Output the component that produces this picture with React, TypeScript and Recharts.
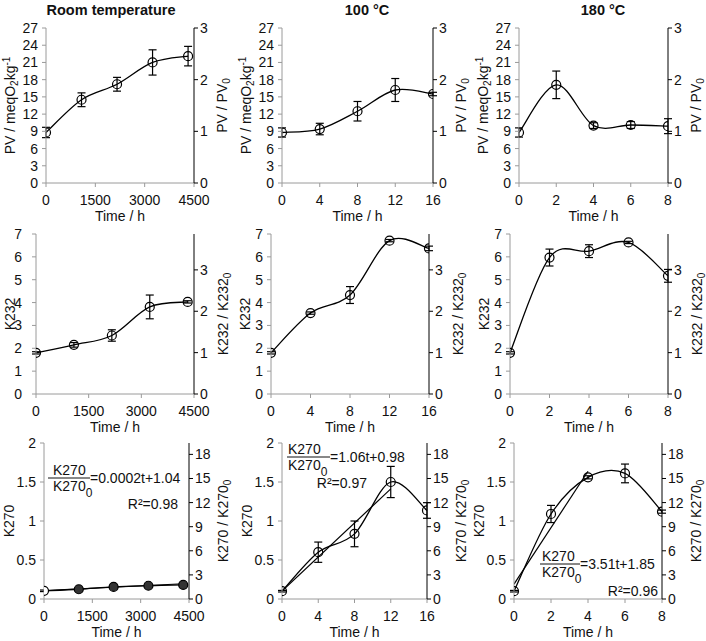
import React from "react";
import { ComposedChart, ErrorBar, Line, XAxis, YAxis } from "recharts";

// sampling times (h)
const hoursRT = [0, 1080, 2160, 3240, 4320];
const hours100 = [0, 4, 8, 12, 16];
const hours180 = [0, 2, 4, 6, 8];

// axis ticks
const ticksRT = [0, 1500, 3000, 4500];
const ticks100 = [0, 4, 8, 12, 16];
const ticks180 = [0, 2, 4, 6, 8];
const pvTicks = [0, 3, 6, 9, 12, 15, 18, 21, 24, 27];
const pvRatioTicks = [0, 1, 2, 3];
const k232Ticks = [0, 1, 2, 3, 4, 5, 6, 7];
const k232RatioTicks = [0, 1, 2, 3];
const k270Ticks = [0, 0.5, 1, 1.5, 2];
const k270RatioTicks = [0, 3, 6, 9, 12, 15, 18];

// initial values used for the right-hand ratio axes
const pv0 = 9;
const k232_0 = 1.81;
const k270_0 = 0.103;

// peroxide value (meq O2/kg) and standard deviations
const pvRT = [8.8, 14.5, 17.2, 21.0, 22.1];
const pvRTErr = [0.9, 1.2, 1.2, 2.2, 1.7];
const pv100 = [8.8, 9.4, 12.5, 16.2, 15.5];
const pv100Err = [0.8, 1.0, 1.7, 2.0, 0.3];
const pv180 = [8.8, 17.1, 10.0, 10.1, 9.9];
const pv180Err = [0.8, 2.4, 0.5, 0.6, 1.3];

// K232
const k232RT = [1.8, 2.15, 2.56, 3.81, 4.03];
const k232RTErr = [0.05, 0.1, 0.25, 0.52, 0.05];
const k232_100 = [1.8, 3.54, 4.33, 6.71, 6.37];
const k232_100Err = [0.05, 0.05, 0.37, 0.05, 0.1];
const k232_180 = [1.8, 5.97, 6.25, 6.63, 5.17];
const k232_180Err = [0.05, 0.37, 0.28, 0.05, 0.28];

// K270
const k270RT = [0.105, 0.125, 0.155, 0.17, 0.18];
const k270RTErr = [0.01, 0.02, 0.02, 0.02, 0.02];
const k270_100 = [0.1, 0.6, 0.835, 1.5, 1.135];
const k270_100Err = [0.01, 0.13, 0.165, 0.2, 0.1];
const k270_180 = [0.1, 1.09, 1.56, 1.61, 1.12];
const k270_180Err = [0.01, 0.11, 0.02, 0.12, 0.02];

// linear fits of K270/K270_0, end points
const fitRTHours = [0, 4320];
const fitRTRatio = [1.04, 1.9];
const fit100Hours = [0, 12];
const fit100Ratio = [0.98, 13.7];
const fit180Hours = [0, 4];
const fit180Ratio = [1.85, 15.9];

const eqRT = "=0.0002t+1.04";
const eq100 = "=1.06t+0.98";
const eq180 = "=3.51t+1.85";
const r2RT = "R²=0.98";
const r2100 = "R²=0.97";
const r2180 = "R²=0.96";

const GRAY = "#9a9a9a";
const INK = "#111";
const tickStyle = { fill: INK, fontSize: 14 };

// excel-like smoothed line (catmull-rom through the points)
const smooth = (context: any) => {
  let pts: number[][] = [];
  return {
    areaStart() {},
    areaEnd() {},
    lineStart() {
      pts = [];
    },
    point(x: number, y: number) {
      pts.push([+x, +y]);
    },
    lineEnd() {
      if (!pts.length) return;
      context.moveTo(pts[0][0], pts[0][1]);
      for (let i = 0; i < pts.length - 1; i++) {
        const p0 = pts[Math.max(i - 1, 0)];
        const p1 = pts[i];
        const p2 = pts[i + 1];
        const p3 = pts[Math.min(i + 2, pts.length - 1)];
        context.bezierCurveTo(
          p1[0] + (p2[0] - p0[0]) / 6,
          p1[1] + (p2[1] - p0[1]) / 6,
          p2[0] - (p3[0] - p1[0]) / 6,
          p2[1] - (p3[1] - p1[1]) / 6,
          p2[0],
          p2[1]
        );
      }
    },
  };
};

function YTitle({ viewBox, side, gap, node }: any) {
  const cx = side === "left" ? viewBox.x + viewBox.width - gap : viewBox.x + gap;
  const cy = viewBox.y + viewBox.height / 2;
  return (
    <text
      x={cx}
      y={cy}
      dy="0.35em"
      transform={`rotate(-90 ${cx} ${cy})`}
      textAnchor="middle"
      fontSize={14}
      fill={INK}
    >
      {node}
    </text>
  );
}

function XTitle({ viewBox }: any) {
  return (
    <text
      x={viewBox.x + viewBox.width / 2}
      y={viewBox.y + 38}
      textAnchor="middle"
      fontSize={14}
      fill={INK}
    >
      Time / h
    </text>
  );
}

const pvTitle = (
  <>
    PV / meqO<tspan dy={3} fontSize={10}>2</tspan>
    <tspan dy={-3}>kg</tspan>
    <tspan dy={-5} fontSize={10}>-1</tspan>
  </>
);
const pvRatioTitle = (
  <>
    PV / PV<tspan dy={3} fontSize={10}>0</tspan>
  </>
);
const k232RatioTitle = (
  <>
    K232 / K232<tspan dy={3} fontSize={10}>0</tspan>
  </>
);
const k270RatioTitle = (
  <>
    K270 / K270<tspan dy={3} fontSize={10}>0</tspan>
  </>
);

type PanelProps = {
  left: number;
  right: number;
  top: number;
  bottom: number;
  hours: number[];
  values: number[];
  errors: number[];
  xTicks: number[];
  yTicks: number[];
  yMax: number;
  rTicks: number[];
  rMax: number;
  yTitle: React.ReactNode;
  rTitle: React.ReactNode;
  yGap: number;
  rGap: number;
  tickGap?: number;
  fitHours?: number[];
  fitRatio?: number[];
  filledDots?: boolean;
};

function Panel(p: PanelProps) {
  const data = p.hours.map((t, i) => ({ t, y: p.values[i], e: p.errors[i] }));
  const fit = p.fitHours
    ? p.fitHours.map((t, i) => ({ t, r: p.fitRatio![i] }))
    : null;
  const w = p.right - p.left + 120;
  const h = p.bottom - p.top + 52;
  const dot = p.filledDots
    ? (d: any) => (
        <circle
          key={d.index}
          cx={d.cx}
          cy={d.cy}
          r={4.5}
          stroke="#000"
          strokeWidth={1.2}
          fill={d.index === 0 ? "#fff" : "#333"}
        />
      )
    : { r: 4.5, stroke: "#000", strokeWidth: 1.2, fill: "none" };

  return (
    <div style={{ position: "absolute", left: p.left - 60, top: p.top - 12 }}>
      <ComposedChart
        width={w}
        height={h}
        margin={{ top: 12, right: 0, bottom: 0, left: 0 }}
      >
        <XAxis
          type="number"
          dataKey="t"
          domain={[p.xTicks[0], p.xTicks[p.xTicks.length - 1]]}
          allowDataOverflow
          ticks={p.xTicks}
          interval={0}
          height={40}
          stroke={GRAY}
          tickSize={4}
          tickMargin={8}
          tick={tickStyle}
          label={<XTitle />}
        />
        <YAxis
          yAxisId="l"
          type="number"
          domain={[0, p.yMax]}
          allowDataOverflow
          ticks={p.yTicks}
          interval={0}
          width={60}
          stroke={GRAY}
          tickSize={4}
          tickMargin={p.tickGap ?? 4}
          tick={tickStyle}
          label={<YTitle side="left" gap={p.yGap} node={p.yTitle} />}
        />
        <YAxis
          yAxisId="r"
          type="number"
          orientation="right"
          domain={[0, p.rMax]}
          allowDataOverflow
          ticks={p.rTicks}
          interval={0}
          width={60}
          stroke="#000"
          tickSize={4}
          tickMargin={2}
          tick={tickStyle}
          label={<YTitle side="right" gap={p.rGap} node={p.rTitle} />}
        />
        <Line
          yAxisId="l"
          data={data}
          dataKey="y"
          type={smooth as any}
          stroke="#000"
          strokeWidth={1.3}
          dot={dot as any}
          activeDot={false}
          isAnimationActive={false}
        >
          <ErrorBar
            dataKey="e"
            direction="y"
            width={4}
            stroke="#000"
            strokeWidth={1.2}
            isAnimationActive={false}
          />
        </Line>
        {fit && (
          <Line
            yAxisId="r"
            data={fit}
            dataKey="r"
            type="linear"
            stroke="#000"
            strokeWidth={1.2}
            dot={false}
            activeDot={false}
            isAnimationActive={false}
          />
        )}
      </ComposedChart>
    </div>
  );
}

function FitLabel({ x, x1, x2, y, eq, eqX, r2, r2Right, r2Y }: any) {
  return (
    <g fontSize={14} fill={INK}>
      <text x={x} y={y - 3}>K270</text>
      <line x1={x1} x2={x2} y1={y} y2={y} stroke={INK} strokeWidth={1} />
      <text x={x} y={y + 13}>
        K270<tspan dy={6} fontSize={12}>0</tspan>
      </text>
      <text x={eqX} y={y + 5}>{eq}</text>
      <text x={r2Right} y={r2Y} textAnchor="end">{r2}</text>
    </g>
  );
}

const rowPv = { top: 28, bottom: 183, yTicks: pvTicks, yMax: 27, rTicks: pvRatioTicks, rMax: 27 / pv0, yTitle: pvTitle, rTitle: pvRatioTitle, yGap: 36, rGap: 28 };
const rowK232 = { top: 234, bottom: 394, yTicks: k232Ticks, yMax: 7, rTicks: k232RatioTicks, rMax: 7 / k232_0, yTitle: "K232", rTitle: k232RatioTitle, yGap: 26, rGap: 29 };
const rowK270 = { top: 443, bottom: 599, yTicks: k270Ticks, yMax: 2, rTicks: k270RatioTicks, rMax: 2 / k270_0, yTitle: "K270", rTitle: k270RatioTitle, yGap: 35, rGap: 34 };

export default function App() {
  return (
    <div
      style={{
        position: "absolute",
        left: 0,
        top: 0,
        width: 706,
        height: 641,
        overflow: "hidden",
        background: "#fff",
        fontFamily: "'Liberation Sans', Arial, sans-serif",
      }}
    >
      <Panel {...rowPv} left={46} right={194} hours={hoursRT} values={pvRT} errors={pvRTErr} xTicks={ticksRT} />
      <Panel {...rowPv} left={282} right={433} hours={hours100} values={pv100} errors={pv100Err} xTicks={ticks100} />
      <Panel {...rowPv} left={519} right={668} hours={hours180} values={pv180} errors={pv180Err} xTicks={ticks180} />

      <Panel {...rowK232} left={36} right={194} hours={hoursRT} values={k232RT} errors={k232RTErr} xTicks={ticksRT} tickGap={10} />
      <Panel {...rowK232} left={271} right={429} hours={hours100} values={k232_100} errors={k232_100Err} xTicks={ticks100} />
      <Panel {...rowK232} left={510} right={668} hours={hours180} values={k232_180} errors={k232_180Err} xTicks={ticks180} />

      <Panel {...rowK270} left={44} right={189} hours={hoursRT} values={k270RT} errors={k270RTErr} xTicks={ticksRT} fitHours={fitRTHours} fitRatio={fitRTRatio} filledDots />
      <Panel {...rowK270} left={282} right={427} hours={hours100} values={k270_100} errors={k270_100Err} xTicks={ticks100} fitHours={fit100Hours} fitRatio={fit100Ratio} />
      <Panel {...rowK270} left={514} right={662} hours={hours180} values={k270_180} errors={k270_180Err} xTicks={ticks180} fitHours={fit180Hours} fitRatio={fit180Ratio} />

      <svg width={706} height={641} style={{ position: "absolute", left: 0, top: 0, pointerEvents: "none" }}>
        <g fontSize={14.5} fontWeight="bold" fill={INK} textAnchor="middle">
          <text x={111} y={15}>Room temperature</text>
          <text x={367} y={15}>100 °C</text>
          <text x={603} y={15}>180 °C</text>
        </g>
        <FitLabel x={53} x1={48} x2={90} y={478} eq={eqRT} eqX={90} r2={r2RT} r2Right={178} r2Y={509} />
        <FitLabel x={288} x1={287} x2={330} y={457} eq={eq100} eqX={330} r2={r2100} r2Right={367} r2Y={488} />
        <FitLabel x={542} x1={540} x2={580} y={564} eq={eq180} eqX={580} r2={r2180} r2Right={658} r2Y={596} />
      </svg>
    </div>
  );
}
